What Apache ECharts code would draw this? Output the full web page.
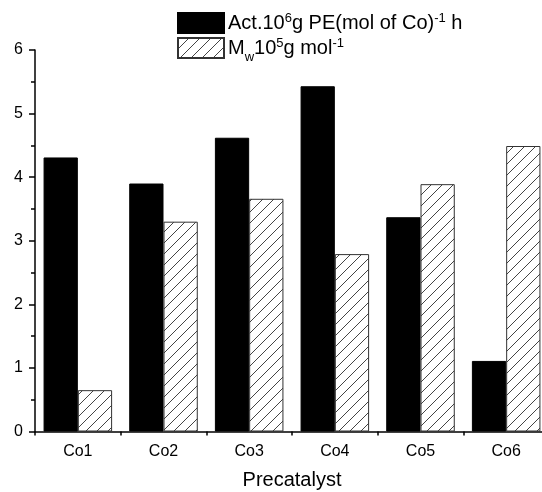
<!DOCTYPE html>
<html>
<head>
<meta charset="utf-8">
<style>
  html, body { margin: 0; padding: 0; background: #fff; }
  #chart { width: 542px; height: 492px; }
</style>
<script src="https://cdn.jsdelivr.net/npm/echarts@6/dist/echarts.min.js"></script>
</head>
<body>
<div id="chart"></div>
<script>
// Precatalysts on the category axis
const categories = ['Co1', 'Co2', 'Co3', 'Co4', 'Co5', 'Co6'];
// Activity, 10^6 g PE (mol of Co)^-1 h
const activity = [4.31, 3.90, 4.62, 5.43, 3.37, 1.11];
// Molecular weight Mw, 10^5 g mol^-1
const mw = [0.65, 3.30, 3.66, 2.79, 3.89, 4.49];
// Value axis range and step
const yMin = 0, yMax = 6, yStep = 1;

// Diagonal hatch tile for the Mw bars
function hatchPattern() {
  const s = 11;
  const c = document.createElement('canvas');
  c.width = s; c.height = s;
  const g = c.getContext('2d');
  g.fillStyle = '#ffffff';
  g.fillRect(0, 0, s, s);
  g.strokeStyle = '#444';
  g.lineWidth = 1;
  g.beginPath();
  g.moveTo(-1, s + 1); g.lineTo(s + 1, -1);
  g.moveTo(-1, 1); g.lineTo(1, -1);
  g.moveTo(s - 1, s + 1); g.lineTo(s + 1, s - 1);
  g.stroke();
  return c;
}

const fontFamily = '"Liberation Sans", Arial, sans-serif';
const chart = echarts.init(document.getElementById('chart'), null, { renderer: 'canvas' });

chart.setOption({
  backgroundColor: '#ffffff',
  animation: false,
  textStyle: { fontFamily: fontFamily, color: '#000' },
  legend: {
    orient: 'vertical',
    left: 177,
    top: 12,
    padding: 0,
    icon: 'rect',
    itemWidth: 46,
    itemHeight: 20,
    itemGap: 3,
    selectedMode: false,
    textStyle: {
      fontFamily: fontFamily,
      fontSize: 20,
      color: '#000',
      padding: [0, 0, 0, -1],
      rich: {
        n: { fontSize: 20, lineHeight: 22, verticalAlign: 'middle', fontFamily: fontFamily, color: '#000' },
        sup: { fontSize: 13, lineHeight: 13, verticalAlign: 'top', fontFamily: fontFamily, color: '#000' },
        sub: { fontSize: 13, height: 4, lineHeight: 4, verticalAlign: 'bottom', fontFamily: fontFamily, color: '#000' }
      }
    },
    formatter: function (name) {
      if (name === 'act') {
        return '{n|Act.10}{sup|6}{n|g PE(mol of Co)}{sup|-1}{n| h}';
      }
      return '{n|M}{sub|w}{n|10}{sup|5}{n|g mol}{sup|-1}';
    },
    data: ['act', 'mw']
  },
  grid: { left: 35, right: -7, top: 50, bottom: 60.5, containLabel: false, outerBoundsMode: 'none' },
  xAxis: [
    {
      type: 'category',
      data: categories,
      name: 'Precatalyst',
      nameLocation: 'middle',
      nameGap: 39,
      nameTextStyle: { fontSize: 20, color: '#000', fontFamily: fontFamily },
      axisLine: { lineStyle: { color: '#000', width: 1.5 } },
      axisTick: { alignWithLabel: true, length: 5, lineStyle: { color: '#000', width: 1.5 } },
      axisLabel: { fontSize: 16, color: '#000', margin: 12, fontFamily: fontFamily },
      splitLine: { show: false }
    },
    {
      // boundary ticks between categories
      type: 'category',
      data: categories,
      position: 'bottom',
      axisLine: { show: false },
      axisTick: { show: true, inside: false, length: 4, lineStyle: { color: '#000', width: 1.5 } },
      axisLabel: { show: false },
      splitLine: { show: false }
    }
  ],
  yAxis: {
    type: 'value',
    min: yMin,
    max: yMax,
    interval: yStep,
    axisLine: { show: true, lineStyle: { color: '#000', width: 1.5 } },
    axisTick: { show: true, length: 6, lineStyle: { color: '#000', width: 1.5 } },
    minorTick: { show: true, splitNumber: 2, length: 4, lineStyle: { color: '#000', width: 1.5 } },
    axisLabel: { fontSize: 16, color: '#000', margin: 12, fontFamily: fontFamily },
    splitLine: { show: false }
  },
  series: [
    {
      name: 'act',
      type: 'bar',
      data: activity,
      barGap: '0%',
      barCategoryGap: '20%',
      itemStyle: { color: '#000', borderColor: '#000', borderWidth: 1 }
    },
    {
      name: 'mw',
      type: 'bar',
      data: mw,
      barGap: '0%',
      barCategoryGap: '20%',
      itemStyle: {
        color: { image: hatchPattern(), repeat: 'repeat' },
        borderColor: '#333',
        borderWidth: 1
      }
    }
  ]
});
</script>
</body>
</html>
